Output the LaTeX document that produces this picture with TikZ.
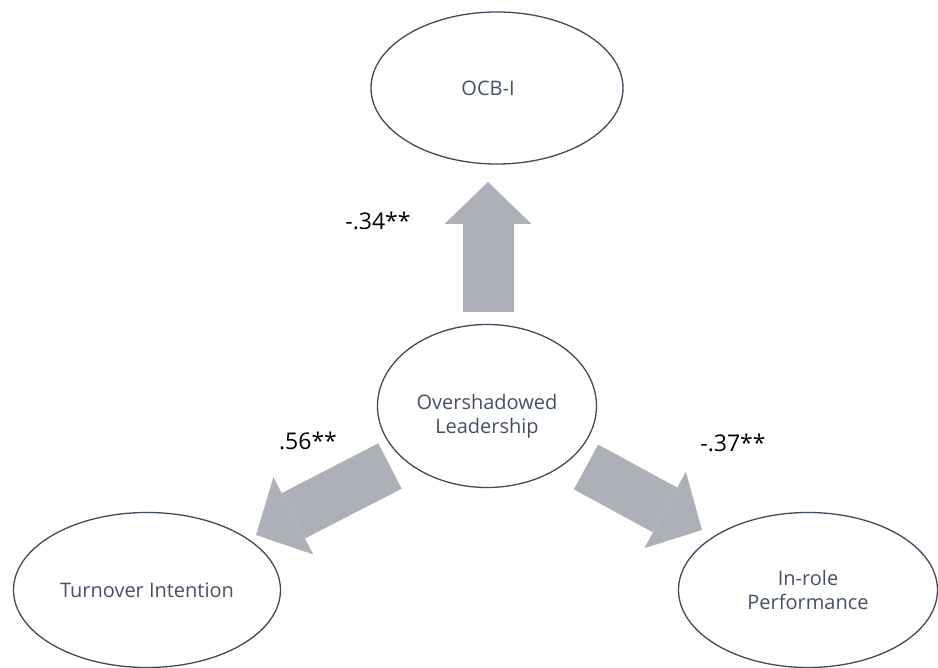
\documentclass[tikz,border=0pt]{standalone}
\usepackage{fontspec}
\setmainfont{Open Sans}
\usetikzlibrary{shapes.geometric,arrows.meta}
\definecolor{arrowgray}{RGB}{174,176,184}
\definecolor{rimcol}{RGB}{61,74,94}
\definecolor{labcol}{RGB}{68,80,100}
\begin{document}
\begin{tikzpicture}[x=1pt,y=-1pt,
	construct/.style={ellipse,draw=rimcol,line width=1.3pt,inner sep=0pt,text=labcol,align=center,font=\fontsize{20}{24}\selectfont},
	effect/.style={draw=arrowgray,line width=51pt,-{Triangle[width=87pt,length=42pt,line width=0pt]}},
	coef/.style={font=\fontsize{23}{27}\selectfont}]
		\useasboundingbox (0,0) rectangle (938,668);
		\coordinate (upfrom) at (488,312);
		\coordinate (upto) at (488,182);
		\coordinate (leftfrom) at (390,466);
		\coordinate (leftto) at (256,535);
		\coordinate (rightfrom) at (586,467);
		\coordinate (rightto) at (702,530);
		\draw[effect] (upfrom) -- (upto);
		\draw[effect] (leftfrom) -- (leftto);
		\draw[effect] (rightfrom) -- (rightto);
		\node[construct,minimum width=252pt,minimum height=152pt] (ocb) at (497,88) {OCB-I\hspace*{18pt}};
		\node[construct,minimum width=219pt,minimum height=163pt] (lead) at (487,406) {\raisebox{0pt}[\dimexpr\height+22pt\relax]{\begin{tabular}{@{}c@{}}Overshadowed\\Leadership\end{tabular}}};
		\node[construct,minimum width=267pt,minimum height=155pt] (turn) at (147,590) {Turnover Intention};
		\node[construct,minimum width=259pt,minimum height=155pt] (perf) at (808,590) {In-role\\Performance};
		\node[coef] (c1) at (378,221) {-.34**};
		\node[coef] (c2) at (308,441) {.56**};
		\node[coef] (c3) at (733,443) {-.37**};
\end{tikzpicture}
\end{document}
